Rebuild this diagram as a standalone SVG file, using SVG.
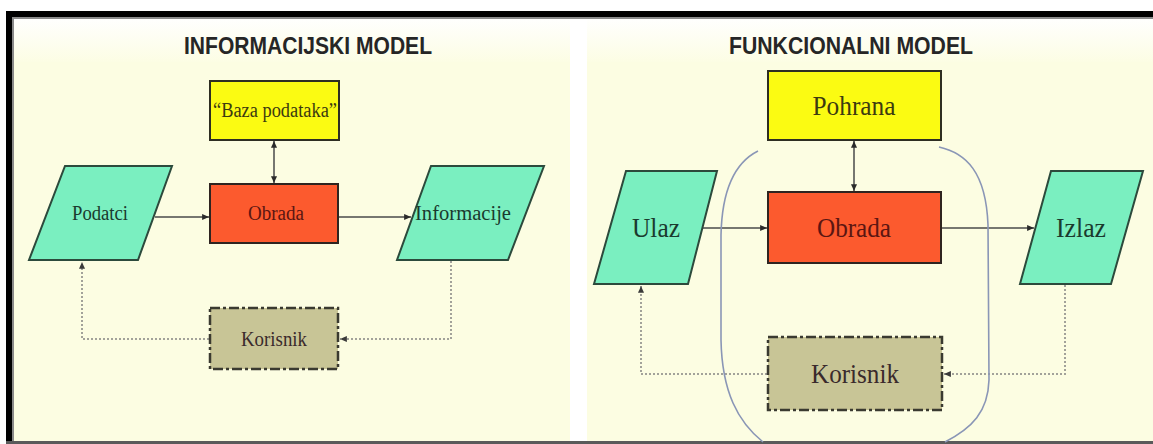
<svg xmlns="http://www.w3.org/2000/svg" width="1153" height="444" viewBox="0 0 1153 444">
  <defs>
    <linearGradient id="fadeTop" x1="0" y1="0" x2="0" y2="1">
      <stop offset="0" stop-color="#ffffff"/>
      <stop offset="1" stop-color="#fcfde2"/>
    </linearGradient>
    <marker id="ah" viewBox="0 0 8 7" refX="8" refY="3.5" markerWidth="7" markerHeight="6" markerUnits="userSpaceOnUse" orient="auto-start-reverse">
      <path d="M0,0 L8,3.5 L0,7 z" fill="#2a2a2a"/>
    </marker>
    <marker id="ahs" viewBox="0 0 8 7" refX="8" refY="3.5" markerWidth="7" markerHeight="6" markerUnits="userSpaceOnUse" orient="auto-start-reverse">
      <path d="M0,0 L8,3.5 L0,7 z" fill="#3a3a3a"/>
    </marker>
  </defs>
  <style>
    .title { font-family: "Liberation Sans", Arial, sans-serif; font-weight: bold; fill: #262626; text-anchor: middle; font-size: 23px; }
    .lbl { font-family: "Liberation Serif", "Times New Roman", serif; text-anchor: middle; }
    .sm { font-size: 20px; }
    .lg { font-size: 27px; }
    .yellow { fill: #fbfb12; stroke: #2e2e22; stroke-width: 2; }
    .red { fill: #fc5a2e; stroke: #2e2420; stroke-width: 2; }
    .green { fill: #7aefc0; stroke: #2c4a3c; stroke-width: 2; }
    .user { fill: #c8c596; stroke: #3a3a30; stroke-width: 2.5; stroke-dasharray: 10 3 3 3; }
    .tY { fill: #3c3a10; }
    .tR { fill: #5a1612; }
    .tG { fill: #1a3a2e; }
    .tU { fill: #3a2a2c; }
    .solid { fill: none; stroke: #4a4a4a; stroke-width: 1.5; }
    .dot { fill: none; stroke: #a2a29a; stroke-width: 2; stroke-dasharray: 2 2; }
    .scope { fill: none; stroke: #8a96b6; stroke-width: 1.6; }
  </style>

  <!-- background and frame -->
  <rect x="0" y="0" width="1153" height="444" fill="#ffffff"/>
  <rect x="12" y="17" width="558" height="48" fill="url(#fadeTop)"/>
  <rect x="12" y="62" width="558" height="380" fill="#fcfde2"/>
  <rect x="587" y="17" width="566" height="48" fill="url(#fadeTop)"/>
  <rect x="587" y="62" width="566" height="380" fill="#fcfde2"/>
  <rect x="6" y="11" width="1147" height="6" fill="#000000"/>
  <rect x="6" y="17" width="1147" height="2" fill="#8a8a8a"/>
  <rect x="6" y="11" width="6" height="433" fill="#000000"/>
  <rect x="12" y="17" width="2" height="425" fill="#8a8a8a"/>
  <rect x="6" y="441" width="1147" height="3" fill="#5a5a5a"/>

  <!-- titles -->
  <text class="title" x="308" y="54" textLength="248" lengthAdjust="spacingAndGlyphs">INFORMACIJSKI MODEL</text>
  <text class="title" x="851" y="54" textLength="244" lengthAdjust="spacingAndGlyphs">FUNKCIONALNI MODEL</text>

  <!-- connectors -->
  <g id="connectors">
    <!-- left model -->
    <line class="solid" x1="274" y1="141" x2="274" y2="183" marker-start="url(#ah)" marker-end="url(#ah)"/>
    <line class="solid" x1="155" y1="217" x2="209" y2="217" marker-end="url(#ah)"/>
    <line class="solid" x1="339" y1="217" x2="411" y2="217" marker-end="url(#ah)"/>
    <path class="dot" d="M451,261 V339 H340" marker-end="url(#ahs)"/>
    <path class="dot" d="M209,339 H82 V262" marker-end="url(#ahs)"/>
    <!-- right model -->
    <line class="solid" x1="854" y1="141" x2="854" y2="191" marker-start="url(#ah)" marker-end="url(#ah)"/>
    <line class="solid" x1="703" y1="228" x2="767" y2="228" marker-end="url(#ah)"/>
    <line class="solid" x1="942" y1="228" x2="1034" y2="228" marker-end="url(#ah)"/>
    <path class="dot" d="M1065,285 V374 H944" marker-end="url(#ahs)"/>
    <path class="dot" d="M767,374 H641 V286" marker-end="url(#ahs)"/>
    <!-- system boundary -->
    <path class="scope" d="M758,151 C736,162 722,188 721,235 L721,340 C722,392 738,422 763,442"/>
    <path class="scope" d="M939,147 C966,153 986,172 988,225 L989,380 C988,412 972,428 945,442"/>
  </g>

  <!-- left model nodes -->
  <g id="baza">
    <rect class="yellow" x="210" y="81" width="129" height="59"/>
    <text class="lbl sm tY" x="275" y="117" textLength="124" lengthAdjust="spacingAndGlyphs">“Baza podataka”</text>
  </g>
  <g id="obrada-l">
    <rect class="red" x="210" y="184" width="128" height="59"/>
    <text class="lbl sm tR" x="276" y="220" textLength="56" lengthAdjust="spacingAndGlyphs">Obrada</text>
  </g>
  <g id="podatci">
    <polygon class="green" points="65,166 172,166 138,260 29,260"/>
    <text class="lbl sm tG" x="100" y="220" textLength="56" lengthAdjust="spacingAndGlyphs">Podatci</text>
  </g>
  <g id="informacije">
    <polygon class="green" points="431,166 544,166 508,260 397,260"/>
    <text class="lbl sm tG" x="463" y="220" textLength="96" lengthAdjust="spacingAndGlyphs">Informacije</text>
  </g>
  <g id="korisnik-l">
    <rect class="user" x="210" y="308" width="128" height="61"/>
    <text class="lbl sm tU" x="274" y="346" textLength="66" lengthAdjust="spacingAndGlyphs">Korisnik</text>
  </g>

  <!-- right model nodes -->
  <g id="pohrana">
    <rect class="yellow" x="768" y="71" width="173" height="69"/>
    <text class="lbl lg tY" x="854" y="115" textLength="83" lengthAdjust="spacingAndGlyphs">Pohrana</text>
  </g>
  <g id="obrada-r">
    <rect class="red" x="768" y="192" width="173" height="71"/>
    <text class="lbl lg tR" x="854" y="237" textLength="74" lengthAdjust="spacingAndGlyphs">Obrada</text>
  </g>
  <g id="ulaz">
    <polygon class="green" points="626,171 717,171 688,284 594,284"/>
    <text class="lbl lg tG" x="656" y="237" textLength="48" lengthAdjust="spacingAndGlyphs">Ulaz</text>
  </g>
  <g id="izlaz">
    <polygon class="green" points="1051,171 1143,171 1111,284 1020,284"/>
    <text class="lbl lg tG" x="1081" y="237" textLength="50" lengthAdjust="spacingAndGlyphs">Izlaz</text>
  </g>
  <g id="korisnik-r">
    <rect class="user" x="768" y="337" width="174" height="73"/>
    <text class="lbl lg tU" x="855" y="383" textLength="88" lengthAdjust="spacingAndGlyphs">Korisnik</text>
  </g>
</svg>
